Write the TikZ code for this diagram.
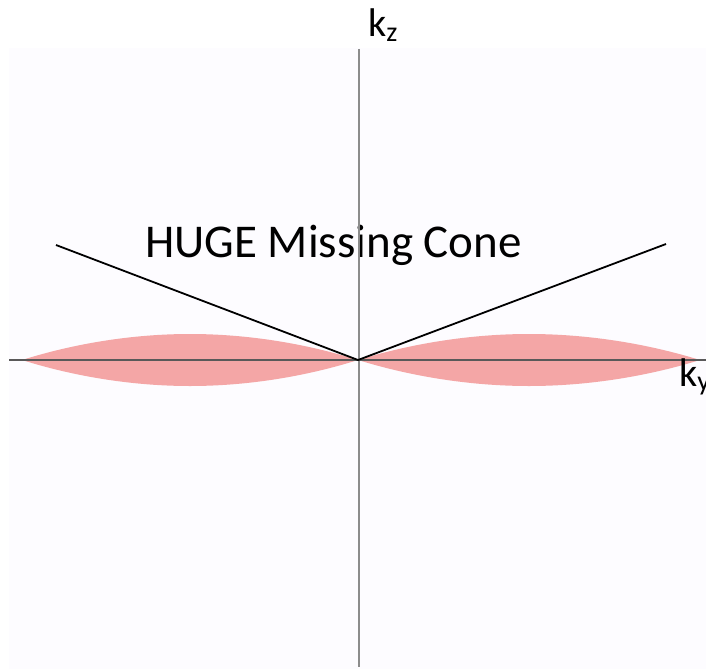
\documentclass[tikz,border=0pt]{standalone}
\usepackage{fontspec}
\setmainfont{Carlito}
\definecolor{lobepink}{HTML}{F4A6A6}
\definecolor{panelbg}{HTML}{FDFCFF}

\begin{document}
\begin{tikzpicture}[x=1pt,y=-1pt,
  axis/.style={line width=2.4pt},
  cone/.style={black,line width=1.8pt},
  lobe/.style={fill=lobepink,draw=none},
  lbl/.style={anchor=base west,inner sep=0pt}]
\useasboundingbox (0,0) rectangle (706,669);
\fill[panelbg] (9,48) rectangle (706,669);
% lobes along k_y
\fill[lobe] (22,360) parabola bend (190,334) (358,360) parabola bend (190,386) (22,360);
\fill[lobe] (358,360) parabola bend (529,334) (700,360) parabola bend (529,386) (358,360);
\coordinate (o) at (358,360);
\coordinate (ztop) at (359,49);
\coordinate (zbot) at (359,667);
\coordinate (yleft) at (9,360);
\coordinate (yright) at (706,360);
\coordinate (cl) at (56,245);
\coordinate (cr) at (666,244);
\node[lbl,font=\fontsize{47}{52}\selectfont] (title) at (145,257) {HUGE Missing Cone};
\draw[axis,black!45] (ztop) -- (zbot);
\draw[axis,black!65] (yleft) -- (yright);
\draw[cone] (cl) -- (o) -- (cr);
\node[lbl,font=\fontsize{40}{44}\selectfont] (kz) at (368,37) {k\textsubscript{z}};
\node[lbl,font=\fontsize{40}{44}\selectfont] (ky) at (679,386) {k\textsubscript{y}};
\end{tikzpicture}
\end{document}
